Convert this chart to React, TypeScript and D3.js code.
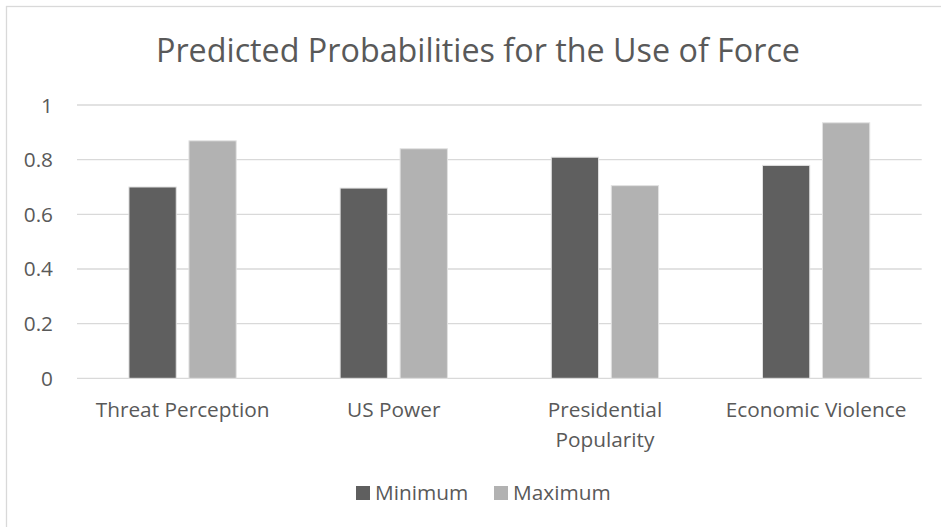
import { useEffect, useRef } from "react";
import * as d3 from "d3";

const categories = [
  "Threat Perception",
  "US Power",
  "Presidential Popularity",
  "Economic Violence",
];
const seriesNames = ["Minimum", "Maximum"];
const minimumValues = [0.7, 0.696, 0.809, 0.779];
const maximumValues = [0.869, 0.84, 0.705, 0.935];
const yTicks = [0, 0.2, 0.4, 0.6, 0.8, 1];
const seriesColors = ["#5f5f5f", "#b2b2b2"];

const W = 941;
const H = 527;
const FONT = "'Open Sans', 'Noto Sans', sans-serif";
const TEXT = "#595959";
const LABEL_SIZE = 20.8;

export default function App() {
  const svgRef = useRef<SVGSVGElement>(null);

  useEffect(() => {
    if (!svgRef.current) return;
    const svg = d3.select(svgRef.current);
    svg.selectAll("*").remove();

    // chart frame (only top/left edges fall inside the picture)
    svg
      .append("rect")
      .attr("x", 6.5)
      .attr("y", 6.5)
      .attr("width", 1000)
      .attr("height", 600)
      .attr("fill", "#fff")
      .attr("stroke", "#d9d9d9")
      .attr("stroke-width", 1.3);

    svg
      .append("text")
      .attr("x", 478)
      .attr("y", 61.7)
      .attr("text-anchor", "middle")
      .attr("font-family", FONT)
      .attr("font-size", 32.5)
      .attr("fill", TEXT)
      .attr("textLength", 644)
      .attr("lengthAdjust", "spacingAndGlyphs")
      .text("Predicted Probabilities for the Use of Force");

    const x0 = d3
      .scaleBand<string>()
      .domain(categories)
      .range([77, 921.7])
      .paddingInner(0.492)
      .paddingOuter(0.246);

    const x1 = d3
      .scaleBand<string>()
      .domain(seriesNames)
      .range([0, x0.bandwidth()])
      .paddingInner(0.212);

    const y = d3.scaleLinear().domain([0, 1]).range([378.3, 105]);

    // gridlines + y labels
    svg
      .append("g")
      .selectAll("line")
      .data(yTicks)
      .join("line")
      .attr("x1", 77)
      .attr("x2", 921.7)
      .attr("y1", (d) => y(d))
      .attr("y2", (d) => y(d))
      .attr("stroke", "#d9d9d9")
      .attr("stroke-width", 1.3);

    svg
      .append("g")
      .selectAll("text")
      .data(yTicks)
      .join("text")
      .attr("x", 53)
      .attr("y", (d) => y(d) + 7.5)
      .attr("text-anchor", "end")
      .attr("font-family", FONT)
      .attr("font-size", LABEL_SIZE)
      .attr("fill", TEXT)
      .text((d) => d3.format("~g")(d));

    // bars
    const series = [minimumValues, maximumValues];
    const groups = svg
      .append("g")
      .selectAll("g")
      .data(categories)
      .join("g")
      .attr("transform", (d) => `translate(${x0(d)},0)`);

    groups
      .selectAll("rect")
      .data((_, i) => seriesNames.map((s, k) => ({ s, k, v: series[k][i] })))
      .join("rect")
      .attr("x", (d) => x1(d.s)!)
      .attr("width", x1.bandwidth())
      .attr("y", (d) => y(d.v))
      .attr("height", (d) => y(0) - y(d.v))
      .attr("fill", (d) => seriesColors[d.k])
      .attr("stroke", "#e2e2e2")
      .attr("stroke-width", 1);

    // category labels, wrapped to the category step
    const maxWidth = x0.step() - 12;
    svg
      .append("g")
      .selectAll("text")
      .data(categories)
      .join("text")
      .attr("text-anchor", "middle")
      .attr("font-family", FONT)
      .attr("font-size", LABEL_SIZE)
      .attr("fill", TEXT)
      .each(function (d) {
        const t = d3.select(this);
        const cx = x0(d)! + x0.bandwidth() / 2;
        const words = d.split(" ");
        let line: string[] = [];
        let lineNo = 0;
        let tspan = t.append("tspan").attr("x", cx).attr("y", 417.3);
        for (const w of words) {
          line.push(w);
          tspan.text(line.join(" "));
          if (
            line.length > 1 &&
            (tspan.node() as SVGTSpanElement).getComputedTextLength() > maxWidth
          ) {
            line.pop();
            tspan.text(line.join(" "));
            line = [w];
            lineNo++;
            tspan = t
              .append("tspan")
              .attr("x", cx)
              .attr("y", 417.3 + lineNo * 29.4)
              .text(w);
          }
        }
      });

    // legend
    const legendX = [356, 494];
    const legend = svg
      .append("g")
      .selectAll("g")
      .data(seriesNames)
      .join("g")
      .attr("transform", (_, i) => `translate(${legendX[i]},486)`);
    legend
      .append("rect")
      .attr("width", 14)
      .attr("height", 14)
      .attr("fill", (_, i) => seriesColors[i]);
    legend
      .append("text")
      .attr("x", 19)
      .attr("y", 14)
      .attr("font-family", FONT)
      .attr("font-size", LABEL_SIZE)
      .attr("fill", TEXT)
      .text((d) => d);
  }, []);

  return (
    <div style={{ position: "absolute", left: 0, top: 0 }}>
      <svg ref={svgRef} width={W} height={H} style={{ display: "block" }} />
    </div>
  );
}
